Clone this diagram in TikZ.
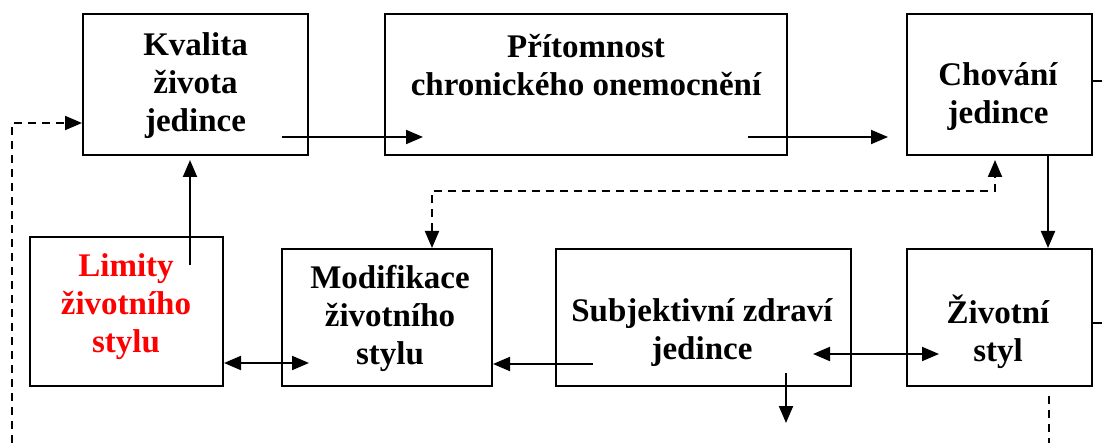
\documentclass[tikz,border=0pt]{standalone}
\usepackage{fontspec}
\setmainfont{Liberation Serif}
\usetikzlibrary{arrows.meta}

\begin{document}
\begin{tikzpicture}[x=0.5pt,y=-0.5pt,
  box/.style={draw,line width=1pt,inner sep=0pt},
  txt/.style={align=center,font=\fontsize{16.5}{19}\selectfont\bfseries},
  arr/.style={line width=1pt,-{Triangle[length=8.5pt,width=7pt]}},
  darr/.style={line width=1pt,{Triangle[length=8.5pt,width=7pt]}-{Triangle[length=8.5pt,width=7pt]}},
  dsh/.style={dash pattern=on 4pt off 3pt}]
  \useasboundingbox (0,0) rectangle (1102,443);
  % Upper row
  \node[box,minimum width=112.5pt,minimum height=70.5pt] (kvalita) at (195.5,84.5) {};
  \node[box,minimum width=201pt,minimum height=70.5pt] (pritomnost) at (586,84.5) {};
  \node[box,minimum width=92.5pt,minimum height=70.5pt] (chovani) at (999.5,84.5) {};
  \node[txt] (kvalitaT) at (195.5,86) {Kvalita\\života\\jedince};
  \node[txt] (pritomnostT) at (586,65) {Přítomnost\\chronického onemocnění};
  \node[txt] (chovaniT) at (998,97) {Chování\\jedince};
  % Lower row
  \node[box,minimum width=96.5pt,minimum height=74.5pt] (limity) at (126.5,311.5) {};
  \node[box,minimum width=105pt,minimum height=68.5pt] (modif) at (387,317.5) {};
  \node[box,minimum width=147.5pt,minimum height=68.5pt] (subj) at (703.5,317.5) {};
  \node[box,minimum width=92.5pt,minimum height=68.5pt] (zivot) at (999.5,317.5) {};
  \node[txt,text=red] (limityT) at (126,307) {Limity\\životního\\stylu};
  \node[txt] (modifT) at (390,318) {Modifikace\\životního\\stylu};
  \node[txt] (subjT) at (702,333) {Subjektivní zdraví\\jedince};
  \node[txt] (zivotT) at (998,332) {Životní\\styl};
  % Free ends of the connectors
  \coordinate (k1) at (282,137);
  \coordinate (p1) at (423,137);
  \coordinate (p2) at (748,137);
  \coordinate (ch1) at (888,137);
  \coordinate (l1) at (190,265);
  \coordinate (m1) at (309,363);
  \coordinate (s1) at (593,364);
  \coordinate (s2) at (813,354);
  \coordinate (z1) at (939,354);
  \coordinate (s3) at (786,373);
  \coordinate (s4) at (786,423);
  \coordinate (fb) at (12,443);
  % Solid arrows
  \draw[arr] (k1) -- (p1);
  \draw[arr] (p2) -- (ch1);
  \draw[arr] ([xshift=24.25pt]chovani.south) -- ([xshift=24.25pt]zivot.north);
  \draw[arr,shorten >=2pt] (l1) -- (kvalita.south -| l1);
  \draw[darr] (limity.east |- m1) -- (m1);
  \draw[arr] (s1) -- (modif.east |- s1);
  \draw[darr] (s2) -- (z1);
  \draw[arr] (s3) -- (s4);
  \draw[line width=1pt] ([yshift=1.5pt]chovani.east) -- ++(12,0);
  \draw[line width=1pt] ([yshift=-2.5pt]zivot.east) -- ++(12,0);
  % Dashed feedback
  \draw[arr,dsh] (fb) |- (kvalita.west |- 0,123);
  \draw[line width=1pt,dsh] ([xshift=24.75pt,yshift=-4.5pt]zivot.south) -- ++(0,50);
  \draw[darr,dsh,shorten >=2pt] ([xshift=22.5pt]modif.north) -- ++(0,-57) -| ([xshift=-2.25pt]chovani.south);
\end{tikzpicture}
\end{document}
